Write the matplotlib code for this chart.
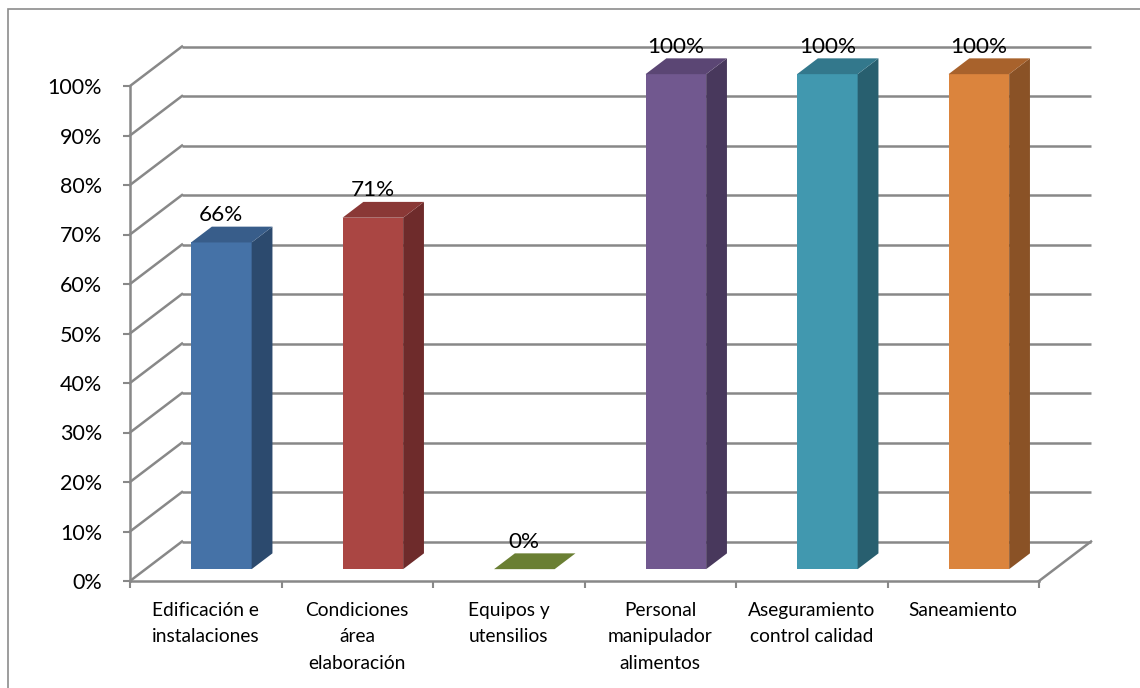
import matplotlib
matplotlib.use("Agg")
import matplotlib.pyplot as plt
from matplotlib.patches import Polygon, Rectangle

# ---- data ----
categories = ["Edificación e\ninstalaciones", "Condiciones\nárea\nelaboración",
              "Equipos y\nutensilios", "Personal\nmanipulador\nalimentos",
              "Aseguramiento\ncontrol calidad", "Saneamiento"]
values = [0.66, 0.71, 0.0, 1.00, 1.00, 1.00]
value_labels = ["66%", "71%", "0%", "100%", "100%", "100%"]
y_ticks = [i / 10 for i in range(11)]
y_tick_labels = [f"{i*10}%" for i in range(11)]

front_colors = ["#4572A7", "#AA4643", "#6A7F33", "#71588F", "#4198AF", "#DB843D"]
top_colors = ["#385D8A", "#8A3836", "#6A7F33", "#5B4674", "#33788C", "#A8622C"]
side_colors = ["#2C4A6E", "#6E2B2B", "#4F5F26", "#48385C", "#285F6F", "#8A5226"]

plt.rcParams['font.family'] = ['Lato', 'DejaVu Sans']

W, H = 1140, 688
fig = plt.figure(figsize=(W / 100, H / 100), dpi=100)

# outer border
fig.patches.append(Rectangle((8 / W, -0.05), 1.2, (H - 9) / H + 0.05,
                             transform=fig.transFigure, fill=False,
                             edgecolor="#8C8C8C", lw=1.2))

# axes: front plane, x in category units, y in value units
x0, x1 = 130, 1039
y0, y1 = 581, 86
ax = fig.add_axes([x0 / W, (H - y0) / H, (x1 - x0) / W, (y0 - y1) / H])
n = len(categories)
ax.set_xlim(0, n)
ax.set_ylim(0, 1)
ax.patch.set_visible(False)

# depth offsets (in data units) for full depth
DX = 52 / ((x1 - x0) / n)
DY = 39.5 / (y0 - y1)


def P(x, v, d):
    return (x + d * DX, v + d * DY)


grid_c = "#888888"
glw = 1.8
# back wall gridlines and left wall diagonals
for v in y_ticks:
    bx0, by = P(0, v, 1)
    bx1, _ = P(n, v, 1)
    ax.plot([bx0, bx1], [by, by], color=grid_c, lw=glw, clip_on=False,
            solid_capstyle="butt", zorder=1)
    ax.plot([0, bx0], [v, by], color=grid_c, lw=glw, clip_on=False, zorder=1)
# floor right diagonal
rx, ry = P(n, 0, 1)
ax.plot([n, rx], [0, ry], color=grid_c, lw=glw, clip_on=False, zorder=1)

# bars
d0, d1 = 0.3, 0.7
bw = 0.4
for i, v in enumerate(values):
    xa = i + 0.5 - bw / 2
    xb = i + 0.5 + bw / 2
    if v > 0:
        front = [P(xa, 0, d0), P(xb, 0, d0), P(xb, v, d0), P(xa, v, d0)]
        side = [P(xb, 0, d0), P(xb, 0, d1), P(xb, v, d1), P(xb, v, d0)]
        ax.add_patch(Polygon(front, closed=True, facecolor=front_colors[i],
                             edgecolor="none", clip_on=False, zorder=3))
        ax.add_patch(Polygon(side, closed=True, facecolor=side_colors[i],
                             edgecolor="none", clip_on=False, zorder=3))
        topc = top_colors[i]
    else:
        topc = front_colors[i]
    top = [P(xa, v, d0), P(xb, v, d0), P(xb, v, d1), P(xa, v, d1)]
    ax.add_patch(Polygon(top, closed=True, facecolor=topc,
                         edgecolor="none", clip_on=False, zorder=3))
    _, ly = P(i + 0.5, v, d1)
    lx = i + 0.5 + d0 * DX
    ax.annotate(value_labels[i], (lx, ly), xytext=(0, 8.5),
                textcoords="offset points", ha="center", va="center",
                fontsize=16.2, color="#000000", zorder=5, annotation_clip=False)

# spines
for s in ["top", "right"]:
    ax.spines[s].set_visible(False)
for s in ["left", "bottom"]:
    ax.spines[s].set_color(grid_c)
    ax.spines[s].set_linewidth(glw)
    ax.spines[s].set_zorder(2)

ax.set_yticks(y_ticks)
ax.set_yticklabels(y_tick_labels, fontsize=15.5)
ax.tick_params(axis="y", length=5, width=1.5, color=grid_c, pad=15)

ax.set_xticks(range(n + 1))
ax.set_xticklabels([""] * (n + 1))
ax.set_xticks([i + 0.5 for i in range(n)], minor=True)
ax.set_xticklabels(categories, minor=True, fontsize=13.8, linespacing=1.68,
                   va="top")
ax.tick_params(axis="x", which="major", length=5, width=1.5, color=grid_c)
ax.tick_params(axis="x", which="minor", length=0, pad=15)

fig.savefig("out.png", dpi=100)
